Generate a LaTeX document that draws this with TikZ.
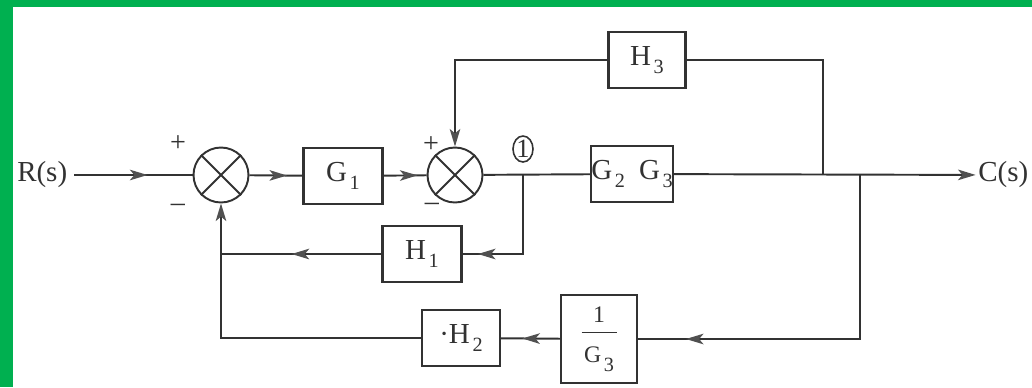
\documentclass[tikz,border=0pt]{standalone}
\usepackage{fontspec}
\setmainfont{Liberation Serif}
\usetikzlibrary{arrows.meta,shapes,positioning,calc,decorations.markings}
\definecolor{FrameG}{RGB}{0,176,80}
\definecolor{InkD}  {RGB}{50, 50, 50}
\definecolor{TipG}  {RGB}{80, 80, 80}
\newcommand{\lowsub}[1]{\kern1.5pt\raisebox{-5pt}{\fontsize{11.5}{12}\selectfont #1}}

\begin{document}
\begin{tikzpicture}[x=0.02cm,y=-0.02cm,line width=1.1pt,draw=InkD,text=InkD,
    font=\fontsize{16.5}{19}\selectfont,
    blk/.style={draw,line width=1.2pt,minimum width=1.58cm,minimum height=1.12cm,inner sep=0pt},
    sumj/.style={draw,circle,minimum size=1.1cm,inner sep=0pt},
    sgn/.style={inner sep=0pt,font=\fontsize{16}{16}\selectfont},
    tip/.style={-{Stealth[length=10pt,width=6pt,inset=2.5pt,color=TipG]}},
    midtip/.style={postaction={decorate},decoration={markings,
      mark=at position #1 with {\arrow{Stealth[length=10pt,width=6pt,inset=2.5pt,color=TipG]}}}}]
  \useasboundingbox (0,0) rectangle (1032,387);
  \fill[FrameG] (0,0) rectangle (1032,387);
  \fill[white] (13,7) rectangle (1040,395);

  % forward path
  \node[anchor=east] (rin) at (74,175) {R(s)};
  \node[sumj] (s1) at (221,175) {};
  \node[blk] (g1) at (343,176) {G\lowsub{1}};
  \node[sumj] (s2) at (455,175) {};
  \node[blk,minimum width=1.58cm] (g23) at (632,174) {G\lowsub{2}\hspace{8pt}G\lowsub{3}};
  \node[anchor=east,inner sep=1pt] (cout) at (1031,175) {C(s)};
  \foreach \s in {s1,s2}{
    \draw (\s.north east)--(\s.south west) (\s.north west)--(\s.south east);}
  \node[sgn] (p1) at ($(s1)+(-43,-31)$) {+};
  \node[sgn] (m1) at ($(s1)+(-43,33)$) {\textendash};
  \node[sgn] (p2) at ($(s2)+(-24,-30)$) {+};
  \node[sgn] (m2) at ($(s2)+(-23,32)$) {\textendash};

  % feedback blocks
  \node[blk,minimum width=1.54cm] (h3) at (647,60) {H\lowsub{3}};
  \node[blk] (h1) at (422,254) {H\lowsub{1}};
  \node[blk,minimum width=1.56cm] (h2) at (461,338) {\textperiodcentered H\lowsub{2}};
  \node[blk,minimum width=1.52cm,minimum height=1.76cm,align=center,
        font=\fontsize{13.5}{15}\selectfont] (ig3) at (599,339)
        {1\\[-4pt]\rule[5pt]{0.7cm}{0.6pt}\\[-3pt]G\lowsub{3}};

  % take-off points
  \coordinate (b1) at (523,175);
  \coordinate (b3) at (823,175);
  \coordinate (b2) at (860,175);
  \coordinate (j1) at (221,254);
  \node[draw,ellipse,line width=0.9pt,minimum width=0.4cm,minimum height=0.52cm,
        inner sep=0pt,font=\fontsize{15}{15}\selectfont] (n1) at (523,149) {1};

  % connectors
  \draw[midtip=0.62] (rin) -- (s1);
  \draw[midtip=0.71] (s1) -- (g1);
  \draw[midtip=0.79] (g1) -- (s2);
  \draw (s2) -- (g23);
  \draw[tip] (g23) -- (cout);
  \draw (b3) |- (h3);
  \draw[tip] (h3) -| (s2);
  \draw[midtip=0.89] (b1) |- (h1);
  \draw[midtip=0.56] (h1) -- (j1);
  \draw[tip] (j1) -- (s1);
  \draw[midtip=0.876] (b2) |- (ig3);
  \draw[midtip=0.64] (ig3) -- (h2);
  \draw (h2) -| (j1);
\end{tikzpicture}
\end{document}
